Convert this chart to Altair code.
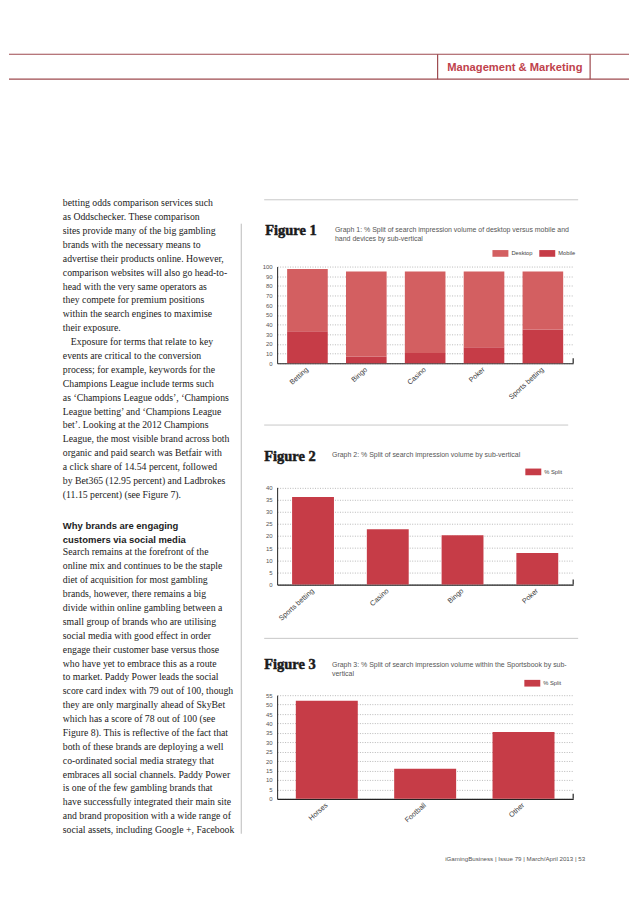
import altair as alt
import pandas as pd

# ---------------- data ----------------
header_label = ["Management & Marketing"]
footer_label = ["iGamingBusiness  |  Issue 79  |  March/April 2013  |  53"]

fig1_categories = ["Betting", "Bingo", "Casino", "Poker", "Sports betting"]
fig1_series = ["Desktop", "Mobile"]
fig1_desktop = [64.5, 88.0, 84.5, 78.5, 60.0]
fig1_mobile = [33.0, 7.0, 10.5, 16.5, 35.0]
fig1_ticks = [0, 10, 20, 30, 40, 50, 60, 70, 80, 90, 100]

fig2_categories = ["Sports betting", "Casino", "Bingo", "Poker"]
fig2_series = ["% Split"]
fig2_values = [36.0, 22.8, 20.3, 13.0]
fig2_ticks = [0, 5, 10, 15, 20, 25, 30, 35, 40]

fig3_categories = ["Horses", "Football", "Other"]
fig3_series = ["% Split"]
fig3_values = [52.0, 16.0, 35.5]
fig3_ticks = [0, 5, 10, 15, 20, 25, 30, 35, 40, 45, 50, 55]

fig_labels = ["Figure 1", "Figure 2", "Figure 3"]
fig1_desc = ["Graph 1: % Split of search impression volume of desktop versus mobile and",
             "hand devices by sub-vertical"]
fig2_desc = ["Graph 2: % Split of search impression volume by sub-vertical"]
fig3_desc = ["Graph 3: % Split of search impression volume within the Sportsbook by sub-",
             "vertical"]

body_para1 = [
    "betting odds comparison services such",
    "as Oddschecker. These comparison",
    "sites provide many of the big gambling",
    "brands with the necessary means to",
    "advertise their products online. However,",
    "comparison websites will also go head-to-",
    "head with the very same operators as",
    "they compete for premium positions",
    "within the search engines to maximise",
    "their exposure.",
]
body_para2_first = ["Exposure for terms that relate to key"]
body_para2_rest = [
    "events are critical to the conversion",
    "process; for example, keywords for the",
    "Champions League include terms such",
    "as \u2018Champions League odds\u2019, \u2018Champions",
    "League betting\u2019 and \u2018Champions League",
    "bet\u2019. Looking at the 2012 Champions",
    "League, the most visible brand across both",
    "organic and paid search was Betfair with",
    "a click share of 14.54 percent, followed",
    "by Bet365 (12.95 percent) and Ladbrokes",
    "(11.15 percent) (see Figure 7).",
]
body_heading = ["Why brands are engaging", "customers via social media"]
body_para3 = [
    "Search remains at the forefront of the",
    "online mix and continues to be the staple",
    "diet of acquisition for most gambling",
    "brands, however, there remains a big",
    "divide within online gambling between a",
    "small group of brands who are utilising",
    "social media with good effect in order",
    "engage their customer base versus those",
    "who have yet to embrace this as a route",
    "to market. Paddy Power leads the social",
    "score card index with 79 out of 100, though",
    "they are only marginally ahead of SkyBet",
    "which has a score of 78 out of 100 (see",
    "Figure 8). This is reflective of the fact that",
    "both of these brands are deploying a well",
    "co-ordinated social media strategy that",
    "embraces all social channels. Paddy Power",
    "is one of the few gambling brands that",
    "have successfully integrated their main site",
    "and brand proposition with a wide range of",
    "social assets, including Google +, Facebook",
]

# ---------------- style ----------------
DESKTOP = "#d35f61"
MOBILE = "#c63c47"
SPLIT = "#c63c47"
SERIF = "Liberation Serif, Times New Roman, serif"
SANS = "Liberation Sans, Arial, sans-serif"
PLOT_W = 297
LH = 13.93


def one(text):
    return pd.DataFrame({"t": [text]})


def text_layer(text, x, y, **kw):
    return alt.Chart(one(text)).mark_text(**kw).encode(
        text="t:N", x=alt.value(x), y=alt.value(y))


def hrule(x, x2, y, color, width=1.0):
    return alt.Chart(one("")).mark_rule(color=color, strokeWidth=width).encode(
        x=alt.value(x), x2=alt.value(x2), y=alt.value(y))


def vrule(x, y, y2, color, width=1.0):
    return alt.Chart(one("")).mark_rule(color=color, strokeWidth=width).encode(
        x=alt.value(x), y=alt.value(y), y2=alt.value(y2))


def fig_panel(df, cats, series, colors, ticks, ymax, H, y0, ytop, pi, po,
              sep_y, sep_x2, label, label_x, label_y, desc, desc_x, desc_y, leg_x, leg_y):
    bars = alt.Chart(df).mark_bar().encode(
        x=alt.X("category:N", sort=cats, title=None,
                scale=alt.Scale(paddingInner=pi, paddingOuter=po),
                axis=alt.Axis(labelAngle=318, labelAlign="right", labelBaseline="middle",
                              labelFont=SANS, labelFontSize=7.2, labelColor="#3a3a3a",
                              tickSize=0, labelPadding=5, domainColor="#222",
                              domainWidth=1.2, offset=-(H - y0), grid=False)),
        y=alt.Y("value:Q", stack="zero", title=None,
                scale=alt.Scale(domain=[0, ymax], range=[y0, ytop], nice=False),
                axis=alt.Axis(values=ticks, tickSize=0, labelPadding=5, labelFont=SANS,
                              labelFontSize=6, labelColor="#555", labelOverlap=False,
                              domainColor="#222", domainWidth=1, grid=True,
                              gridColor="#8a8a8a", gridDash=[1, 1.5], gridWidth=0.6)),
        color=alt.Color("series:N",
                        scale=alt.Scale(domain=series, range=colors),
                        legend=alt.Legend(orient="none", legendX=leg_x, legendY=leg_y,
                                          direction="horizontal", title=None, padding=0,
                                          symbolType="M-1,-0.42H1V0.42H-1Z", symbolSize=256,
                                          symbolStrokeWidth=0, labelFont=SANS,
                                          labelFontSize=5.8, labelColor="#444",
                                          labelOffset=3, columnPadding=6)),
        order=alt.Order("rank:Q"),
    )
    layers = [
        hrule(-13, sep_x2, sep_y, "#c8c8c8"),
        text_layer(label, label_x, label_y, align="left", baseline="alphabetic",
                   font=SERIF, fontSize=14.5, fontWeight="bold", color="#1a1a1a",
                   stroke="#1a1a1a", strokeWidth=0.5),
        text_layer("\n".join(desc), desc_x, desc_y,
                   align="left", baseline="alphabetic", font=SANS, fontSize=7.0,
                   color="#555", lineBreak="\n", lineHeight=9.5),
        bars,
        vrule(PLOT_W, y0 - 5, y0, "#222", 1.2),
    ]
    return alt.layer(*layers).properties(width=PLOT_W, height=H)


# figure tables
rows1 = []
for i, c in enumerate(fig1_categories):
    rows1.append({"category": c, "series": "Mobile", "value": fig1_mobile[i], "rank": 0})
    rows1.append({"category": c, "series": "Desktop", "value": fig1_desktop[i], "rank": 1})
df1 = pd.DataFrame(rows1)
df2 = pd.DataFrame({"category": fig2_categories, "series": fig2_series[0],
                    "value": fig2_values, "rank": 0})
df3 = pd.DataFrame({"category": fig3_categories, "series": fig3_series[0],
                    "value": fig3_values, "rank": 0})

fig1 = fig_panel(df1, fig1_categories, fig1_series, [DESKTOP, MOBILE], fig1_ticks, 100,
                 H=230, y0=178, ytop=81, pi=0.31, po=0.17,
                 sep_y=14, sep_x2=302, label=fig_labels[0], label_x=-12, label_y=49,
                 desc=fig1_desc, desc_x=58, desc_y=46.3, leg_x=216, leg_y=59.5)
fig2 = fig_panel(df2, fig2_categories, fig2_series, [SPLIT], fig2_ticks, 40,
                 H=217, y0=170, ytop=72.5, pi=0.44, po=0.2,
                 sep_y=10, sep_x2=292, label=fig_labels[1], label_x=-13, label_y=46.3,
                 desc=fig2_desc, desc_x=55, desc_y=41.6, leg_x=249, leg_y=49)
fig3 = fig_panel(df3, fig3_categories, fig3_series, [SPLIT], fig3_ticks, 55,
                 H=218, y0=168, ytop=64, pi=0.37, po=0.19,
                 sep_y=7, sep_x2=302, label=fig_labels[2], label_x=-13, label_y=38,
                 desc=fig3_desc, desc_x=55, desc_y=35.3, leg_x=248, leg_y=44)

# left text column
body_kw = dict(align="left", baseline="alphabetic", font=SERIF, fontSize=9.8,
               color="#222", lineBreak="\n", lineHeight=LH)
top0 = 20.5
left = alt.layer(
    text_layer("\n".join(body_para1), 54, top0, **body_kw),
    text_layer(body_para2_first[0], 62, top0 + 10 * LH, **body_kw),
    text_layer("\n".join(body_para2_rest), 54, top0 + 11 * LH, **body_kw),
    text_layer("\n".join(body_heading), 54, 343.8, align="left", baseline="alphabetic",
               font=SANS, fontSize=9.5, fontWeight="bold", color="#222",
               lineBreak="\n", lineHeight=15),
    text_layer("\n".join(body_para3), 54, 370.8, **body_kw),
    vrule(233, 38, 650, "#bbbbbb"),
).properties(width=253, height=665)

header = alt.layer(
    hrule(0, 622, 45, "#9e4a4f", 1.2),
    hrule(0, 622, 70, "#9e4a4f", 1.2),
    vrule(430, 45, 70, "#9e4a4f", 1.2),
    vrule(583, 45, 70, "#9e4a4f", 1.2),
    text_layer(header_label[0], 507.5, 61.5, align="center", baseline="alphabetic",
               font=SANS, fontSize=11.2, fontWeight="bold", color="#c0424c"),
).properties(width=622, height=177)

footer = alt.layer(
    text_layer(footer_label[0], 578, 12.3, align="right", baseline="alphabetic",
               font=SANS, fontSize=6.2, color="#555"),
).properties(width=622, height=25)

figs = alt.vconcat(fig1, fig2, fig3, spacing=0).resolve_scale(
    color="independent").resolve_legend(color="independent")
body = alt.hconcat(left, figs, spacing=0).resolve_scale(
    color="independent").resolve_legend(color="independent")

chart = alt.vconcat(header, body, footer, spacing=0).resolve_scale(
    color="independent").resolve_legend(color="independent").properties(
    padding=0, background="white"
).configure_view(stroke=None)

chart.save("out.html", embed_options={"renderer": "svg", "actions": False})
